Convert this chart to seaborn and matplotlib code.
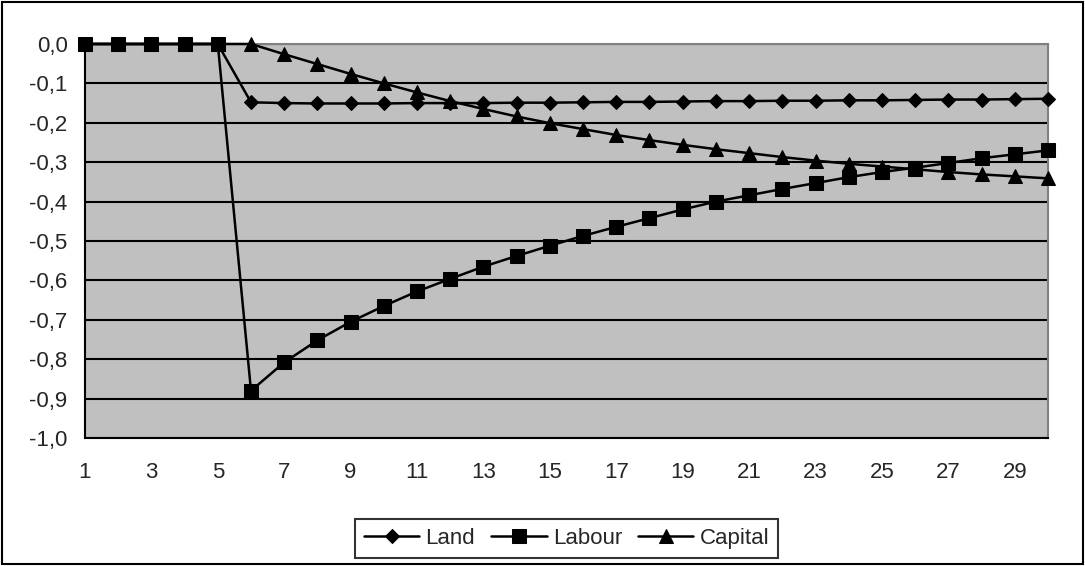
#!/usr/bin/env python3
"""Excel-style line chart: Land / Labour / Capital deviations over 30 periods."""

import matplotlib
matplotlib.use("Agg")
import matplotlib.pyplot as plt
import matplotlib.ticker as mticker
import seaborn as sns
from matplotlib.patches import Rectangle

PERIODS = list(range(1, 31))

LAND = [0.0, 0.0, 0.0, 0.0, 0.0,
        -0.148, -0.150, -0.151, -0.151, -0.151,
        -0.150, -0.150, -0.150, -0.149, -0.149,
        -0.148, -0.147, -0.147, -0.146, -0.145,
        -0.145, -0.144, -0.144, -0.143, -0.143,
        -0.142, -0.141, -0.141, -0.140, -0.139]

LABOUR = [0.0, 0.0, 0.0, 0.0, 0.0,
          -0.880, -0.808, -0.752, -0.705, -0.665,
          -0.628, -0.596, -0.565, -0.538, -0.512,
          -0.487, -0.464, -0.442, -0.420, -0.400,
          -0.384, -0.368, -0.353, -0.338, -0.325,
          -0.314, -0.302, -0.290, -0.280, -0.270]

CAPITAL = [0.0, 0.0, 0.0, 0.0, 0.0,
           0.0, -0.026, -0.051, -0.076, -0.100,
           -0.123, -0.145, -0.165, -0.184, -0.201,
           -0.216, -0.231, -0.244, -0.256, -0.267,
           -0.277, -0.287, -0.296, -0.304, -0.311,
           -0.318, -0.325, -0.331, -0.336, -0.341]

SERIES = [("Land", LAND, "D", 7.5),
          ("Labour", LABOUR, "s", 10.5),
          ("Capital", CAPITAL, "^", 10.5)]

FONT_SIZE = 16


def main() -> None:
    sns.set_theme(style="white")
    plt.rcParams["font.family"] = ["Liberation Sans", "DejaVu Sans"]

    fig = plt.figure(figsize=(10.85, 5.66), dpi=100)
    ax = fig.add_axes([0.0783, 0.2261, 0.8876, 0.6962])
    ax.set_facecolor("#c0c0c0")

    for name, vals, mk, ms in SERIES:
        sns.lineplot(x=PERIODS, y=vals, ax=ax, color="black", linewidth=1.8,
                     marker=mk, markersize=ms, markeredgecolor="black",
                     markerfacecolor="black", label=name, clip_on=False,
                     zorder=3)

    ax.set_xlim(1, 30)
    ax.set_ylim(-1.0, 0.0)
    ax.yaxis.set_major_locator(mticker.MultipleLocator(0.1))
    ax.yaxis.set_major_formatter(
        mticker.FuncFormatter(lambda v, _: f"{v:.1f}".replace(".", ",").replace("-0,0", "0,0")))
    ax.set_xticks(PERIODS)
    ax.set_xticklabels([str(p) if p % 2 == 1 else "" for p in PERIODS])
    ax.grid(axis="y", color="black", linewidth=1.5, zorder=1)
    ax.set_axisbelow(True)

    for side in ("top", "right"):
        ax.spines[side].set_color("#808080")
        ax.spines[side].set_linewidth(1.5)
    for side in ("left", "bottom"):
        ax.spines[side].set_color("black")
        ax.spines[side].set_linewidth(1.5)

    ax.tick_params(axis="both", which="major", direction="out", length=5.5,
                   width=1.5, color="black", labelsize=FONT_SIZE)
    ax.tick_params(axis="y", pad=7)
    ax.tick_params(axis="x", pad=12)
    ax.set_xlabel("")
    ax.set_ylabel("")

    leg = ax.legend(loc="center", bbox_to_anchor=(0.5, -0.254), ncol=3,
                    frameon=True, fancybox=False, fontsize=FONT_SIZE,
                    handlelength=2.5, handletextpad=0.27, columnspacing=0.72,
                    borderpad=0.4, borderaxespad=0)
    leg.get_frame().set_edgecolor("black")
    leg.get_frame().set_linewidth(1.5)

    fig.patches.append(Rectangle((0.002, 0.004), 0.996, 0.992,
                                 transform=fig.transFigure, fill=False,
                                 edgecolor="black", linewidth=1.5))

    fig.savefig("out.png", dpi=100)
    plt.close(fig)


if __name__ == "__main__":
    main()
